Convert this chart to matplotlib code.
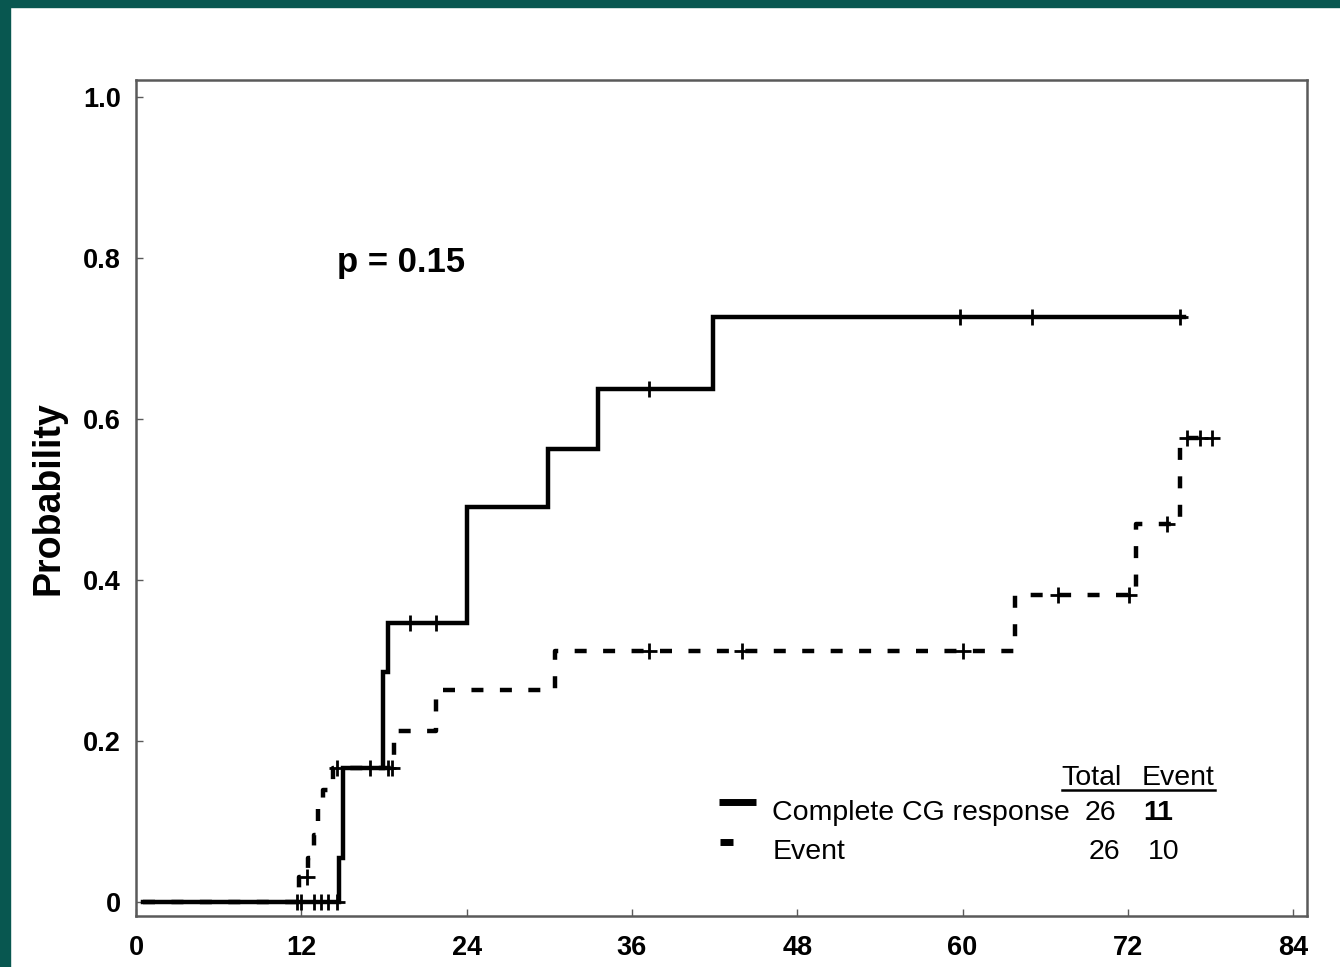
import numpy as np
import matplotlib.pyplot as plt
from matplotlib.patches import Rectangle

plt.rcParams["font.family"] = ["Liberation Sans", "DejaVu Sans"]

# cumulative probability, step times (months) and levels
cg_times = [0.5, 14.7, 15.0, 17.9, 18.3, 24.0, 29.9, 33.5, 41.9]
cg_prob = [0.0, 0.055, 0.166, 0.286, 0.347, 0.491, 0.563, 0.637, 0.727]
cg_end = 76.1
cg_censored = [11.7, 12.0, 12.9, 13.4, 13.9, 14.6, 17.0, 19.9, 21.8, 37.2, 59.8, 65.0, 75.8]

ev_times = [0.5, 11.8, 12.5, 12.9, 13.2, 13.6, 14.3, 18.7, 21.8, 30.4, 63.8, 72.6, 75.8]
ev_prob = [0.0, 0.031, 0.055, 0.083, 0.118, 0.139, 0.166, 0.213, 0.263, 0.312, 0.381, 0.470, 0.576]
ev_end = 78.3
ev_censored = [12.4, 14.6, 18.3, 18.6, 37.2, 44.0, 60.0, 66.9, 72.1, 74.8, 76.3, 77.2, 78.1]

x_ticks = [0, 12, 24, 36, 48, 60, 72, 84]
y_ticks = [0, 0.2, 0.4, 0.6, 0.8, 1.0]
y_labels = ["0", "0.2", "0.4", "0.6", "0.8", "1.0"]

groups = ["Complete CG response", "Event"]
totals = [26, 26]
events = [11, 10]
p_value = 0.15


def level_at(times, probs, t):
    i = np.searchsorted(times, t, side="right") - 1
    return probs[max(i, 0)]


fig = plt.figure(figsize=(13.4, 9.67), dpi=100)
fig.patch.set_facecolor("white")
# slide frame along the top and left edge
fig.patches.append(Rectangle((0, 0.993), 1, 0.007, transform=fig.transFigure,
                             color="#085750", zorder=0))
fig.patches.append(Rectangle((0, 0), 0.0075, 1, transform=fig.transFigure,
                             color="#085750", zorder=0))

ax = fig.add_axes([0.1015, 0.0527, 0.8739, 0.8646])
ax.set_xlim(0, 85)
ax.set_ylim(-0.0174, 1.021)

for s in ax.spines.values():
    s.set_color("#5a5a5a")
    s.set_linewidth(1.8)

ax.step(cg_times + [cg_end], cg_prob + [cg_prob[-1]], where="post",
        color="black", lw=3.2, solid_joinstyle="miter")
ax.step(ev_times + [ev_end], ev_prob + [ev_prob[-1]], where="post",
        color="black", lw=3.2, dashes=(2.7, 3.7), dash_capstyle="butt")

cg_cy = [level_at(cg_times, cg_prob, t) for t in cg_censored]
ev_cy = [level_at(ev_times, ev_prob, t) for t in ev_censored]
ax.plot(cg_censored, cg_cy, ls="none", marker="+", ms=11, mew=2.0, color="black")
ax.plot(ev_censored, ev_cy, ls="none", marker="+", ms=11, mew=2.0, color="black")

ax.set_xticks(x_ticks)
ax.set_yticks(y_ticks)
ax.set_yticklabels(y_labels)
ax.tick_params(direction="in", length=5, width=1.0, color="#5a5a5a",
               labelsize=19.5)
for lab in ax.get_xticklabels() + ax.get_yticklabels():
    lab.set_fontweight("bold")
ax.tick_params(axis="x", pad=14)
ax.tick_params(axis="y", pad=11)

ax.set_ylabel("Probability", fontsize=27, fontweight="bold", labelpad=12)

ax.text(14.6, 0.794, f"p = {p_value}", fontsize=25, fontweight="bold",
        ha="left", va="center")

# legend table in the lower right
ax.plot([42.3, 45.0], [0.124, 0.124], color="black", lw=5, solid_capstyle="butt")
ax.plot([42.4, 43.3], [0.074, 0.074], color="black", lw=5, solid_capstyle="butt")
ax.text(67.2, 0.154, "Total", fontsize=20.5, ha="left", va="center")
ax.text(73.0, 0.154, "Event", fontsize=20.5, ha="left", va="center")
ax.plot([67.2, 78.3], [0.139, 0.139], color="black", lw=1.8)
row_y = [0.110, 0.062]
for k, (g, tot, ev) in enumerate(zip(groups, totals, events)):
    ax.text(46.2, row_y[k], g, fontsize=20.5, ha="left", va="center")
    ax.text(70.0 + 0.3 * k, row_y[k], str(tot), fontsize=20.5, ha="center", va="center")
    ax.text(74.2 + 0.4 * k, row_y[k], str(ev), fontsize=20.5, ha="center", va="center",
            fontweight="bold" if k == 0 else "normal")

fig.savefig("out.png", dpi=100)
